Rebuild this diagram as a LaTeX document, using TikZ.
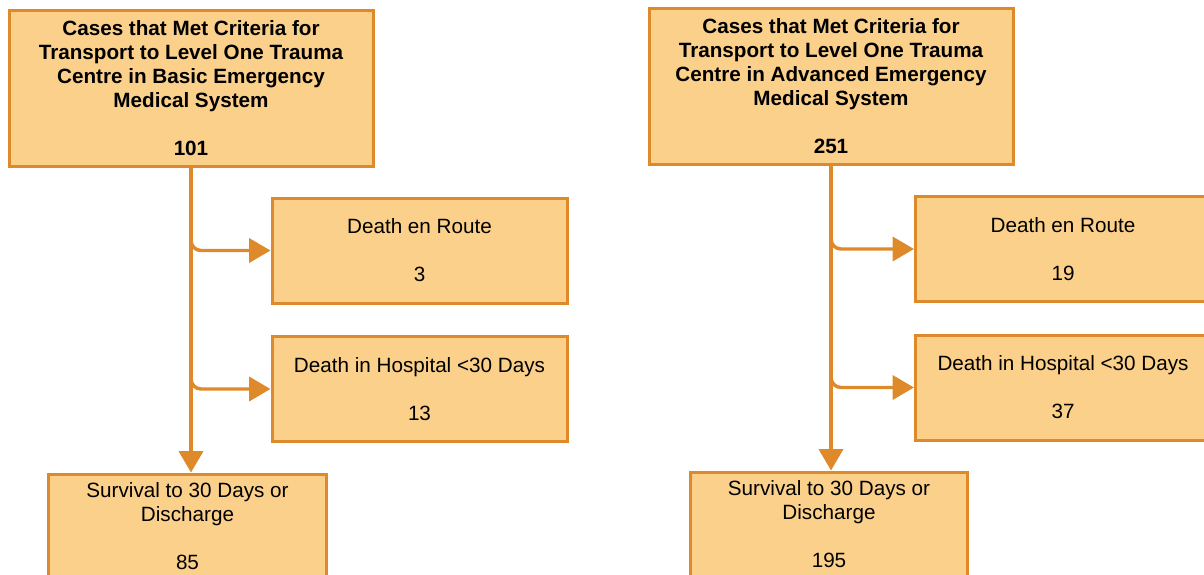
\documentclass[tikz,border=0pt]{standalone}
\usepackage{fontspec}
\setmainfont{Liberation Sans}
\usetikzlibrary{arrows.meta}

\definecolor{boxfill}{RGB}{251,208,138}
\definecolor{boxline}{RGB}{222,138,42}

\tikzset{every picture/.style={line width=0.75pt}}
\tikzset{
  casebox/.style={draw=boxline, fill=boxfill, line width=2.25pt, inner sep=0pt, align=center,
    font=\fontsize{15.5}{18}\selectfont},
  titlebox/.style={casebox, minimum width=273pt, minimum height=117pt,
    font=\fontsize{15.5}{18}\selectfont\bfseries},
  deathbox/.style={casebox, minimum width=221.25pt, minimum height=78.75pt},
  survbox/.style={casebox, minimum width=208pt, minimum height=78pt},
  flow/.style={draw=boxline, line width=2.6pt, rounded corners=7.5pt,
    -{Triangle[length=16pt,width=18pt]}},
}

\begin{document}
\begin{tikzpicture}[x=0.75pt,y=0.75pt,yscale=-1,xscale=1]
        \useasboundingbox (0,0) rectangle (1204,575);

        % Basic system
        \node [titlebox] (basic) at (191,88) {Cases that Met Criteria for\\Transport to Level One Trauma\\Centre in Basic Emergency\\Medical System\\[18pt]101};
        \node [deathbox] (basicder) at (419.5,250.5) {Death en Route\\[18pt]3};
        \node [deathbox] (basicdih) at (419.5,389) {Death in Hospital <30 Days\\[18pt]13};
        \node [survbox] (basicsurv) at (187.5,526) {Survival to 30 Days or\\Discharge\\[18pt]85};

        % Advanced system
        \node [titlebox] (adv) at (831,86) {Cases that Met Criteria for\\Transport to Level One Trauma\\Centre in Advanced Emergency\\Medical System\\[18pt]251};
        \node [deathbox] (advder) at (1063,249) {Death en Route\\[18pt]19};
        \node [deathbox] (advdih) at (1063,387.5) {Death in Hospital <30 Days\\[18pt]37};
        \node [survbox] (advsurv) at (829,524) {Survival to 30 Days or\\Discharge\\[18pt]195};

        % Connectors
        \draw [flow] (basic.south) -- (basic.south |- basicsurv.north);
        \draw [flow] (basic.south) |- (basicder.west);
        \draw [flow] (basic.south) |- (basicdih.west);
        \draw [flow] (adv.south) -- (adv.south |- advsurv.north);
        \draw [flow] (adv.south) |- (advder.west);
        \draw [flow] (adv.south) |- (advdih.west);

\end{tikzpicture}
\end{document}
